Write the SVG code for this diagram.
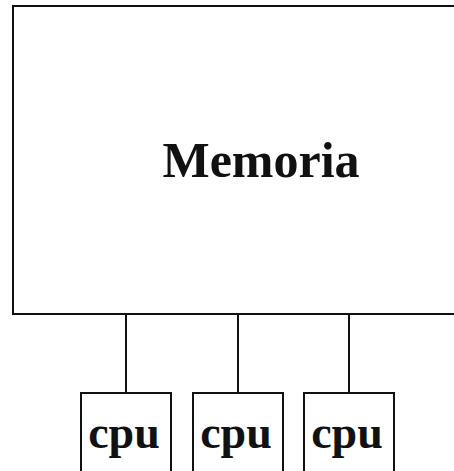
<svg xmlns="http://www.w3.org/2000/svg" width="454" height="471" viewBox="0 0 454 471">
  <style>
    .box { fill: #fff; stroke: #111; stroke-width: 2; }
    .wire { stroke: #111; stroke-width: 2; fill: none; }
    .lbl { font-family: "Liberation Serif", "Times New Roman", serif; font-weight: bold; fill: #111; text-anchor: middle; }
  </style>
  <rect width="454" height="471" fill="#fff"/>
  <g id="memoria">
    <rect class="box" x="13" y="6" width="460" height="308"/>
    <text class="lbl" x="261" y="177" font-size="50">Memoria</text>
  </g>
  <g id="connectors">
    <line class="wire" x1="126" y1="314" x2="126" y2="393"/>
    <line class="wire" x1="238" y1="314" x2="238" y2="393"/>
    <line class="wire" x1="349" y1="314" x2="349" y2="393"/>
  </g>
  <g id="cpu1">
    <rect class="box" x="81" y="393" width="90" height="100"/>
    <text class="lbl" x="124" y="448" font-size="46">cpu</text>
  </g>
  <g id="cpu2">
    <rect class="box" x="193" y="393" width="90" height="100"/>
    <text class="lbl" x="236" y="448" font-size="46">cpu</text>
  </g>
  <g id="cpu3">
    <rect class="box" x="304" y="393" width="90" height="100"/>
    <text class="lbl" x="347" y="448" font-size="46">cpu</text>
  </g>
</svg>
